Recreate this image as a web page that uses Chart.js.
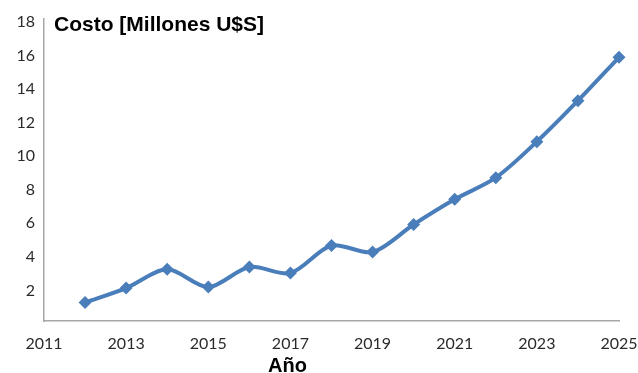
<!DOCTYPE html>
<html>
<head>
<meta charset="utf-8">
<script src="https://cdn.jsdelivr.net/npm/chart.js@4"></script>
<style>
  html, body { margin: 0; padding: 0; background: #fff; }
  #wrap { width: 638px; height: 373px; }
</style>
</head>
<body>
<div id="wrap"><canvas id="c" width="638" height="373"></canvas></div>
<script>
// Annual cost in millions of US dollars
const years = [2012, 2013, 2014, 2015, 2016, 2017, 2018, 2019, 2020, 2021, 2022, 2023, 2024, 2025];
const costs = [1.1, 1.96, 3.08, 2.02, 3.22, 2.86, 4.5, 4.11, 5.75, 7.25, 8.54, 10.69, 13.13, 15.72];
const yTicks = [2, 4, 6, 8, 10, 12, 14, 16, 18];
const chartTitle = 'Costo [Millones U$S]';
const xTitle = 'Año';

const lineColor = '#4A7EBB';
const axisColor = '#A6A6A6';
const tickColor = '#2b2b2b';

// Chart and axis titles drawn onto the canvas
const titles = {
  id: 'titles',
  afterDraw(chart) {
    const ctx = chart.ctx;
    ctx.save();
    ctx.fillStyle = '#000';
    ctx.textAlign = 'left';
    ctx.textBaseline = 'alphabetic';
    ctx.font = 'bold 21px "Liberation Sans", Arial, sans-serif';
    ctx.fillText(chartTitle, 54, 31);
    ctx.font = 'bold 20px "Liberation Sans", Arial, sans-serif';
    ctx.fillText(xTitle, 268, 372);
    ctx.restore();
  }
};

new Chart(document.getElementById('c'), {
  type: 'line',
  data: {
    datasets: [{
      data: years.map((y, i) => ({ x: y, y: costs[i] })),
      borderColor: lineColor,
      backgroundColor: lineColor,
      borderWidth: 4,
      tension: 0.3,
      pointStyle: 'rectRot',
      pointRadius: 6.5,
      pointBorderWidth: 0,
      pointBackgroundColor: lineColor,
      clip: false
    }]
  },
  options: {
    responsive: false,
    animation: false,
    devicePixelRatio: 1,
    layout: { padding: { top: 19, right: 19, left: 0, bottom: 0 } },
    plugins: { legend: { display: false }, tooltip: { enabled: false } },
    scales: {
      x: {
        type: 'linear',
        min: 2011,
        max: 2025,
        afterFit(axis) {
          axis.height = 52;
          // let the last year label run to the canvas edge
          axis.paddingLeft = 0;
          axis.paddingRight = 0;
        },
        afterBuildTicks(axis) {
          axis.ticks = [];
          for (let v = 2011; v <= 2025; v += 2) axis.ticks.push({ value: v });
        },
        grid: { display: true, drawOnChartArea: false, drawTicks: false },
        border: { display: true, color: axisColor, width: 1.5 },
        ticks: {
          color: tickColor,
          font: { family: 'Lato', size: 16 },
          padding: 13,
          maxRotation: 0,
          autoSkip: false,
          callback: v => String(v)
        }
      },
      y: {
        min: 0,
        max: 18,
        afterFit(axis) { axis.width = 44; },
        afterBuildTicks(axis) {
          axis.ticks = yTicks.map(v => ({ value: v }));
        },
        grid: { display: true, drawOnChartArea: false, drawTicks: false },
        border: { display: true, color: axisColor, width: 1.5 },
        ticks: {
          color: tickColor,
          font: { family: 'Lato', size: 16 },
          padding: 9,
          labelOffset: 3,
          autoSkip: false
        }
      }
    }
  },
  plugins: [titles]
});
</script>
</body>
</html>
